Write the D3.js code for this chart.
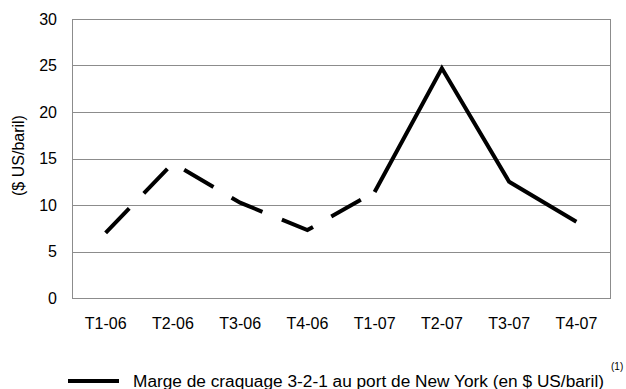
<!DOCTYPE html>
<html>
<head>
<meta charset="utf-8">
<script src="https://cdn.jsdelivr.net/npm/d3@7"></script>
<style>
  html, body { margin: 0; padding: 0; background: #fff; }
  svg { display: block; font-family: "Liberation Sans", Arial, sans-serif; }
</style>
</head>
<body>
<svg id="chart" width="626" height="389"></svg>
<script>
// Trimestres et marge de craquage (en $ US/baril)
const quarters = ["T1-06", "T2-06", "T3-06", "T4-06", "T1-07", "T2-07", "T3-07", "T4-07"];
const margins = [7.0, 14.5, 10.25, 7.3, 11.4, 24.7, 12.5, 8.2];
const yTicks = [0, 5, 10, 15, 20, 25, 30];
const yTitle = "($ US/baril)";
const legendLabel = "Marge de craquage 3-2-1 au port de New York (en $ US/baril)";
const legendNote = "(1)";
// index où la série passe du tireté au trait plein
const solidFrom = 4;

const svg = d3.select("#chart");
const plot = { left: 72, right: 610, top: 19, bottom: 298 };
const font = "Liberation Sans, Arial, sans-serif";

const x = d3.scaleBand().domain(quarters).range([plot.left, plot.right]).padding(0);
const y = d3.scaleLinear().domain([0, 30]).range([plot.bottom, plot.top]);
const cx = d => x(d) + x.bandwidth() / 2;

// grille horizontale
svg.append("g")
  .selectAll("line")
  .data(yTicks)
  .join("line")
  .attr("x1", plot.left).attr("x2", plot.right)
  .attr("y1", d => Math.round(y(d)) + 0.5).attr("y2", d => Math.round(y(d)) + 0.5)
  .attr("stroke", "#8c8c8c").attr("stroke-width", 1);

// cadre de la zone de tracé
svg.append("rect")
  .attr("x", plot.left + 0.5).attr("y", plot.top + 0.5)
  .attr("width", plot.right - plot.left).attr("height", plot.bottom - plot.top)
  .attr("fill", "none").attr("stroke", "#8c8c8c").attr("stroke-width", 1);

// axe vertical
const yAxis = svg.append("g")
  .attr("transform", `translate(${plot.left},0)`)
  .call(d3.axisLeft(y).tickValues(yTicks).tickSize(0).tickPadding(15));
yAxis.select(".domain").remove();
yAxis.selectAll("text").attr("font-size", 16).attr("fill", "#000").attr("font-family", font);

// axe horizontal
const xAxis = svg.append("g")
  .attr("transform", `translate(0,${plot.bottom})`)
  .call(d3.axisBottom(x).tickSize(0).tickPadding(20));
xAxis.select(".domain").remove();
xAxis.selectAll("text").attr("font-size", 16).attr("fill", "#000").attr("font-family", font)
  .attr("dy", 0).attr("y", 31);

// titre de l'axe vertical
svg.append("text")
  .attr("transform", `translate(24,${(plot.top + plot.bottom) / 2 - 3}) rotate(-90)`)
  .attr("text-anchor", "middle")
  .attr("font-size", 16)
  .text(yTitle);

// série
const pts = quarters.map((q, i) => ({ q, v: margins[i] }));
const line = d3.line().x(d => cx(d.q)).y(d => y(d.v));

svg.append("path")
  .datum(pts.slice(0, solidFrom + 1))
  .attr("d", line)
  .attr("fill", "none").attr("stroke", "#000").attr("stroke-width", 4)
  .attr("stroke-dasharray", "34,21").attr("stroke-linejoin", "miter");

svg.append("path")
  .datum(pts.slice(solidFrom))
  .attr("d", line)
  .attr("fill", "none").attr("stroke", "#000").attr("stroke-width", 4)
  .attr("stroke-linejoin", "miter");

// légende
const lg = svg.append("g").attr("transform", "translate(68,381)");
lg.append("line").attr("x1", 0).attr("x2", 51).attr("y1", 0).attr("y2", 0)
  .attr("stroke", "#000").attr("stroke-width", 4);
lg.append("text").attr("x", 65).attr("y", 6).attr("font-size", 16)
  .attr("textLength", 471).attr("lengthAdjust", "spacingAndGlyphs")
  .text(legendLabel);
lg.append("text").attr("x", 543).attr("y", -11).attr("font-size", 10).text(legendNote);
</script>
</body>
</html>
